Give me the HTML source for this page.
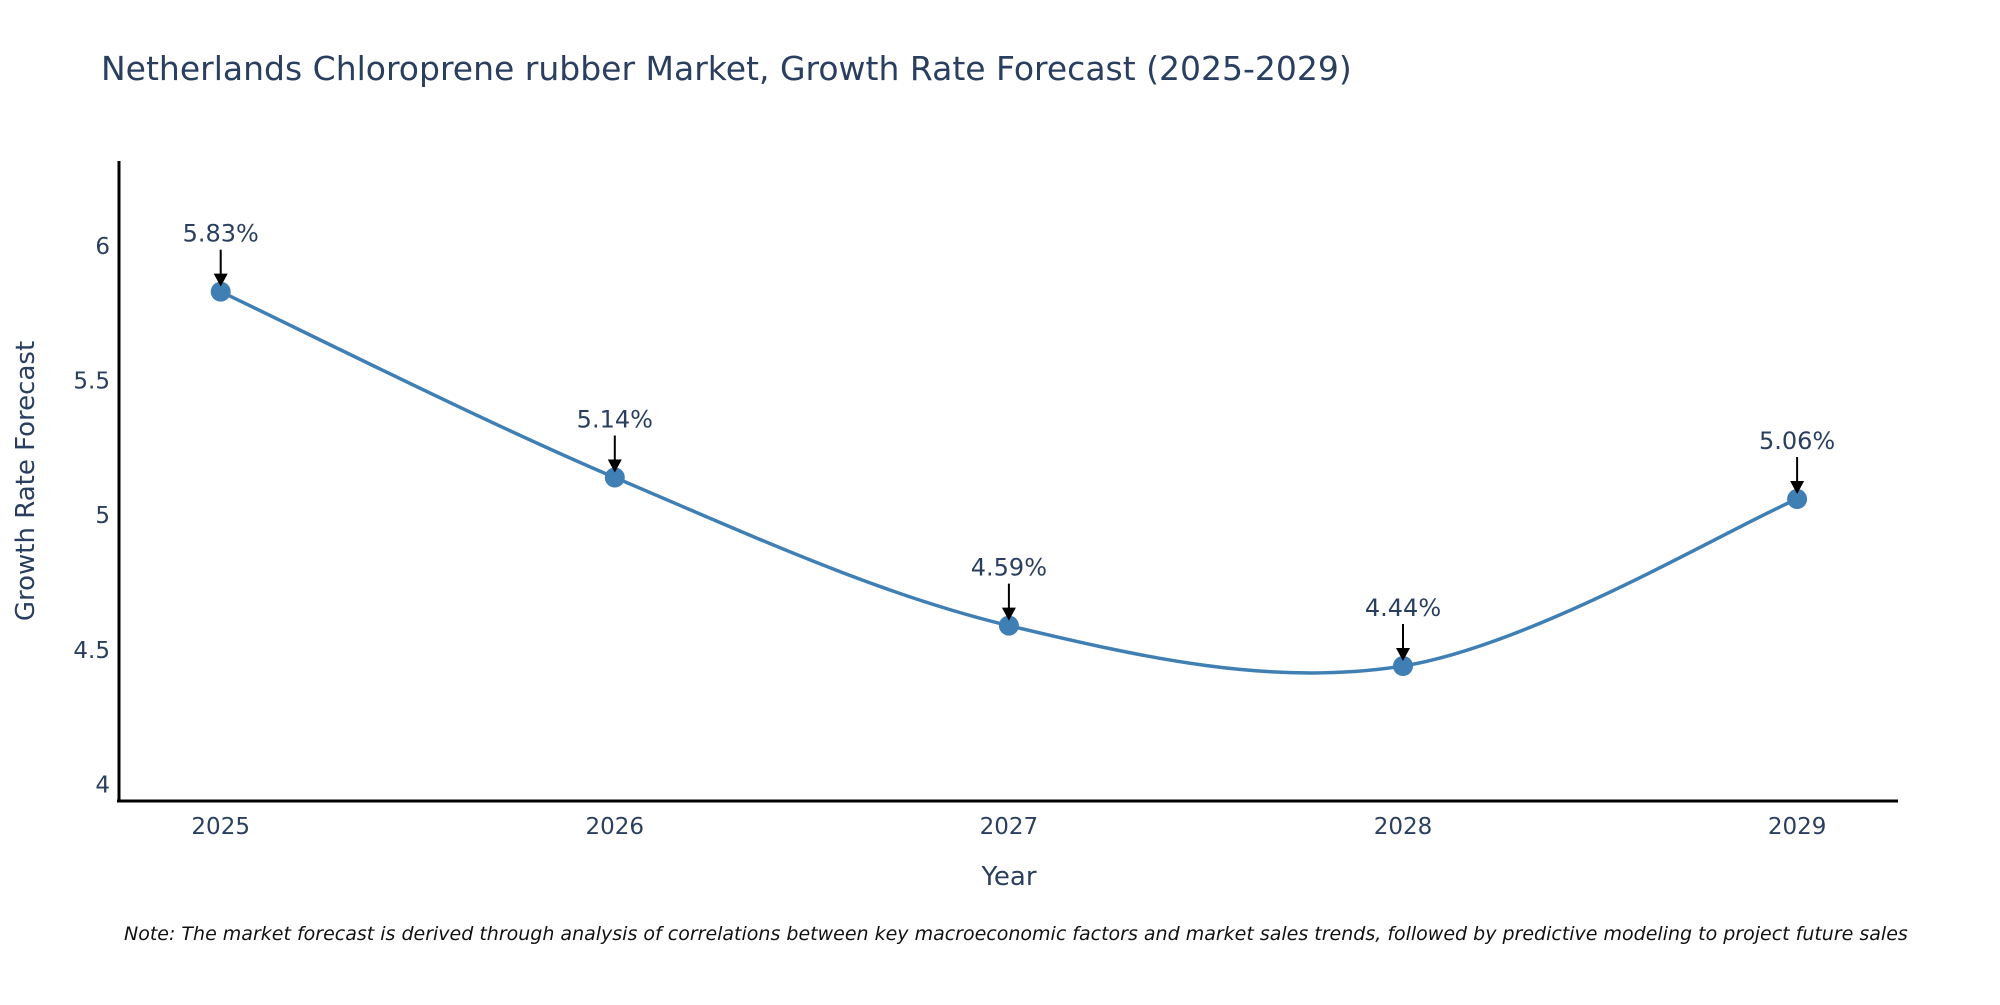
<!DOCTYPE html>
<html><head><meta charset="utf-8"><style>
body{margin:0;background:#fff;}
svg text{font-family:"DejaVu Sans","Liberation Sans",sans-serif;}
</style></head><body>
<svg id="chart" width="2000" height="1000" xmlns="http://www.w3.org/2000/svg">
<rect width="2000" height="1000" fill="#fff"/>
<text x="101" y="80" font-size="33" fill="#2a3f5f">Netherlands Chloroprene rubber Market, Growth Rate Forecast (2025-2029)</text>
<g id="yticks"></g><g id="xticks"></g>
<g id="series"></g><g id="annots"></g>
<line x1="119" y1="161" x2="119" y2="802" stroke="#000" stroke-width="3"/>
<line x1="117" y1="801" x2="1898" y2="801" stroke="#000" stroke-width="3"/>
<text transform="translate(34,481) rotate(-90)" text-anchor="middle" font-size="26" fill="#2a3f5f">Growth Rate Forecast</text>
<text x="1009" y="885" text-anchor="middle" font-size="26" fill="#2a3f5f">Year</text>
<text x="124" y="940" font-size="19" font-style="italic" fill="#111">Note: The market forecast is derived through analysis of correlations between key macroeconomic factors and market sales trends, followed by predictive modeling to project future sales</text>
</svg>
<script>
const years=[2025,2026,2027,2028,2029];
const values=[5.83,5.14,4.59,4.44,5.06];
const labels=["5.83%","5.14%","4.59%","4.44%","5.06%"];
const yTicks=[4,4.5,5,5.5,6];
const yTickLabels=["4","4.5","5","5.5","6"];
const NS="http://www.w3.org/2000/svg";
function xs(v){return 220.7+(v-2025)*394.1;}
function ys(v){return 784.5-(v-4)*269.3;}
function mk(tag,attrs,parent){const e=document.createElementNS(NS,tag);for(const k in attrs)e.setAttribute(k,attrs[k]);parent.appendChild(e);return e;}
const yt=document.getElementById('yticks');
yTicks.forEach((t,i)=>{const e=mk('text',{x:110,y:ys(t)+8,'text-anchor':'end','font-size':23,fill:'#2a3f5f'},yt);


e.textContent=yTickLabels[i];});
const xt=document.getElementById('xticks');
years.forEach(y=>{const e=mk('text',{x:xs(y),y:834,'text-anchor':'middle','font-size':23,fill:'#2a3f5f'},xt);


e.textContent=String(y);});
const pts=years.map((y,i)=>[xs(y),ys(values[i])]);
let d='M'+pts[0][0]+','+pts[0][1];
for(let i=0;i<pts.length-1;i++){const p0=pts[Math.max(i-1,0)],p1=pts[i],p2=pts[i+1],p3=pts[Math.min(i+2,pts.length-1)];
const c1=[p1[0]+(p2[0]-p0[0])/6,p1[1]+(p2[1]-p0[1])/6],c2=[p2[0]-(p3[0]-p1[0])/6,p2[1]-(p3[1]-p1[1])/6];
d+=' C'+c1+' '+c2+' '+p2;}
const s=document.getElementById('series');
const line=mk('path',{d:d,fill:'none',stroke:'#3f7fb4','stroke-width':3.5},s);


const an=document.getElementById('annots');
pts.forEach((p,i)=>{const c=mk('circle',{cx:p[0],cy:p[1],r:10,fill:'#3f7fb4'},s);


mk('line',{x1:p[0],y1:p[1]-42,x2:p[0],y2:p[1]-14,stroke:'#000','stroke-width':2},an);
mk('polygon',{points:(p[0]-7)+','+(p[1]-18)+' '+(p[0]+7)+','+(p[1]-18)+' '+p[0]+','+(p[1]-5),fill:'#000'},an);
const t=mk('text',{x:p[0],y:p[1]-50,'text-anchor':'middle','font-size':24,fill:'#2a3f5f'},an);


t.textContent=labels[i];});
</script>
</body></html>
